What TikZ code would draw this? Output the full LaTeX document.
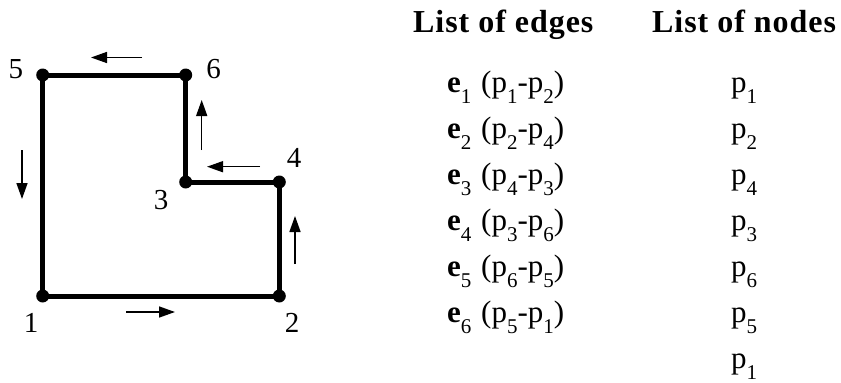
\documentclass[tikz,border=0pt]{standalone}
\usepackage{fontspec}
\setmainfont{Liberation Serif}
\usetikzlibrary{arrows.meta}
\newcommand\subx[1]{\raisebox{-0.36em}{\fontsize{21}{21}\selectfont #1}}
\tikzset{
  edgeline/.style={line width=5pt, line join=miter},
  vtx/.style={circle, fill=black, inner sep=0pt, minimum size=13pt},
  dirarrow/.style={line width=1.5pt, -{Triangle[length=16pt,width=11pt]}},
  lbl/.style={font=\fontsize{29}{29}\selectfont, anchor=base, inner sep=0pt},
  head/.style={font=\fontsize{32}{32}\selectfont\bfseries\addfontfeature{LetterSpace=3}, anchor=base west, inner sep=0pt},
  entry/.style={font=\fontsize{31}{31}\selectfont, anchor=base west, inner sep=0pt}
}
\begin{document}
\begin{tikzpicture}[x=1pt,y=-1pt]
\useasboundingbox[fill=white] (0,0) rectangle (841,383);
% vertices
\coordinate (c1) at (42.7,296);
\coordinate (c2) at (279.3,296);
\coordinate (c3) at (185.7,182);
\coordinate (c4) at (279.3,182);
\coordinate (c5) at (42.7,75);
\coordinate (c6) at (185.7,75);
\draw[edgeline] (c1) -- (c2) -- (c4) -- (c3) -- (c6) -- (c5) -- cycle;
\node[vtx] (v1) at (c1) {};
\node[vtx] (v2) at (c2) {};
\node[vtx] (v3) at (c3) {};
\node[vtx] (v4) at (c4) {};
\node[vtx] (v5) at (c5) {};
\node[vtx] (v6) at (c6) {};
% labels
\node[lbl] (l5) at (16,78) {5};
\node[lbl] (l6) at (213.5,78) {6};
\node[lbl] (l4) at (294,167) {4};
\node[lbl] (l3) at (161,209) {3};
\node[lbl] (l1) at (31,332) {1};
\node[lbl] (l2) at (292,332) {2};
% direction arrows
\coordinate (a1s) at (126,312); \coordinate (a1e) at (175,312);
\coordinate (a2s) at (295,264); \coordinate (a2e) at (295,216);
\coordinate (a3s) at (260,166.7); \coordinate (a3e) at (207,166.7);
\coordinate (a4s) at (201.7,150); \coordinate (a4e) at (201.7,100);
\coordinate (a5s) at (142,57.5); \coordinate (a5e) at (91,57.5);
\coordinate (a6s) at (22,150); \coordinate (a6e) at (22,199);
\draw[dirarrow] (a1s) -- (a1e);
\draw[dirarrow] (a2s) -- (a2e);
\draw[dirarrow] (a3s) -- (a3e);
\draw[dirarrow] (a4s) -- (a4e);
\draw[dirarrow] (a5s) -- (a5e);
\draw[dirarrow] (a6s) -- (a6e);
% headings
\node[head] (h1) at (413,32) {List of edges};
\node[head] (h2) at (652,32) {List of nodes};
% edges list
\node[entry] (e1) at (447,92) {\textbf{e}\subx{1}\hspace{2pt} (p\subx{1}-p\subx{2})};
\node[entry] (e2) at (447,138) {\textbf{e}\subx{2}\hspace{2pt} (p\subx{2}-p\subx{4})};
\node[entry] (e3) at (447,184) {\textbf{e}\subx{3}\hspace{2pt} (p\subx{4}-p\subx{3})};
\node[entry] (e4) at (447,230) {\textbf{e}\subx{4}\hspace{2pt} (p\subx{3}-p\subx{6})};
\node[entry] (e5) at (447,276) {\textbf{e}\subx{5}\hspace{2pt} (p\subx{6}-p\subx{5})};
\node[entry] (e6) at (447,322) {\textbf{e}\subx{6}\hspace{2pt} (p\subx{5}-p\subx{1})};
% nodes list
\node[entry] (n1) at (731,92) {p\subx{1}};
\node[entry] (n2) at (731,138) {p\subx{2}};
\node[entry] (n3) at (731,184) {p\subx{4}};
\node[entry] (n4) at (731,230) {p\subx{3}};
\node[entry] (n5) at (731,276) {p\subx{6}};
\node[entry] (n6) at (731,322) {p\subx{5}};
\node[entry] (n7) at (731,368) {p\subx{1}};
\end{tikzpicture}
\end{document}
